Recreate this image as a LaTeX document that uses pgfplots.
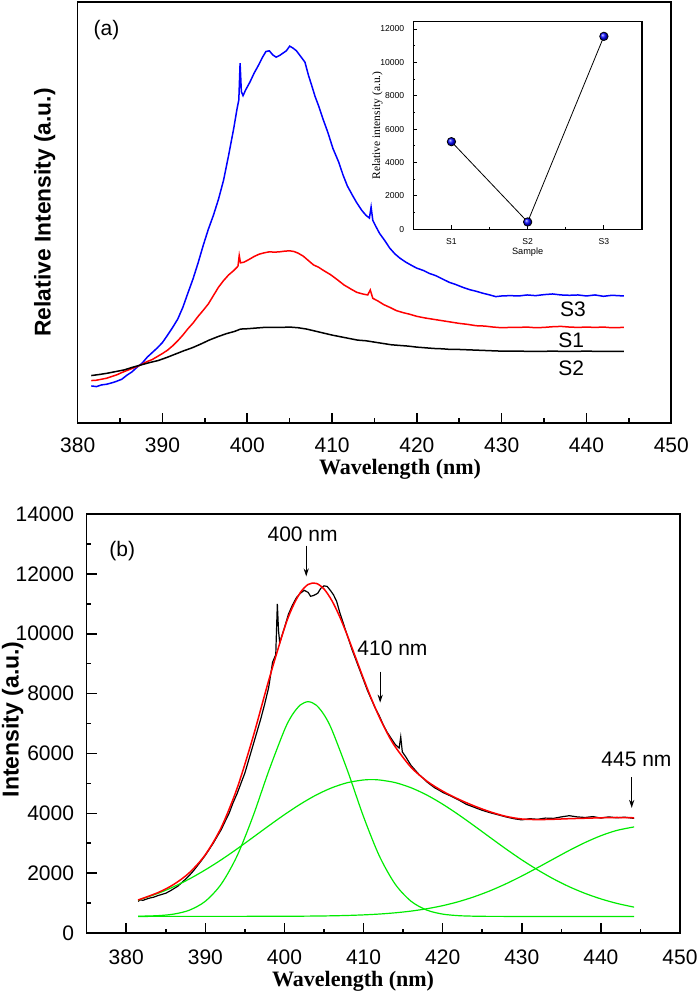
\documentclass[border=0pt]{standalone}
\usepackage{pgfplots}
\pgfplotsset{compat=1.18}
\usepackage{fontspec}
\setmainfont{Liberation Sans}
\newfontfamily\timesfont{Liberation Serif}
\usetikzlibrary{arrows.meta}
\definecolor{fitgreen}{RGB}{0,235,0}
\begin{document}
\begin{tikzpicture}
\path[use as bounding box] (0,0) rectangle (350pt,-496.5pt);
% ---------------- panel (a) ----------------
\begin{axis}[
  at={(38.85pt,-211.35pt)}, anchor=south west,
  scale only axis, width=296.8pt, height=210.35pt,
  xmin=380, xmax=450, ymin=0, ymax=1258,
  xtick={380,390,...,450}, minor x tick num=1,
  ytick=\empty, tick pos=left, tick align=inside,
  major tick length=5pt, minor tick length=2.2pt,
  axis line style={line width=0.8pt}, every tick/.style={black,line width=0.8pt},
  /pgf/number format/assume math mode=true,
  xticklabel style={font=\fontsize{10.5}{12}\selectfont, anchor=center, yshift=-11.2pt},
  xlabel={\timesfont\bfseries Wavelength (nm)},
  xlabel style={font=\fontsize{11}{13}\selectfont, at={(axis description cs:0.543,0)}, anchor=center, yshift=-23.5pt},
  ylabel={\bfseries Relative Intensity (a.u.)},
  ylabel style={font=\fontsize{11.4}{13}\selectfont, at={(axis description cs:0,0.5)}, anchor=center, yshift=16.5pt},
  clip=false,
]
\addplot[blue, line width=0.75pt] coordinates {
(381.6,110)(382.2,108)(382.8,113)(383.4,115)(384.0,119)(384.6,124)(385.2,130)(385.8,142)(386.4,152)(387.0,166)
(387.6,178)(388.2,196)(388.8,210)(389.4,224)(390.0,240)(390.6,262)(391.2,285)(391.8,310)(392.4,345)(393.0,388)
(393.6,430)(394.2,478)(394.8,530)(395.4,578)(396.0,620)(396.6,668)(397.2,725)(397.8,800)(398.4,880)(398.8,940)
(399.0,965)(399.15,1075)(399.3,990)(399.5,978)(399.8,995)(400.3,1018)(400.8,1045)(401.3,1068)(401.8,1093)(402.2,1110)
(402.6,1112)(403.0,1100)(403.4,1093)(403.8,1098)(404.2,1105)(404.6,1112)(405.0,1126)(405.4,1120)(405.8,1112)(406.3,1095)
(406.8,1078)(407.2,1040)(407.6,1008)(408.0,975)(408.4,948)(408.9,910)(409.5,868)(410.1,820)(410.8,778)(411.3,740)
(411.8,708)(412.4,680)(412.9,658)(413.5,635)(414.0,620)(414.4,612)(414.6,645)(414.8,605)(415.2,585)(415.6,566)
(416.2,545)(416.8,522)(417.4,505)(418.0,492)(418.7,480)(419.4,470)(420.0,462)(420.8,455)(421.5,446)(422.2,440)
(423.0,430)(423.8,420)(424.6,413)(425.4,405)(426.2,398)(427.0,393)(427.8,387)(428.6,382)(429.3,377)(430.0,379)
(431.0,380)(432.0,379)(433.0,382)(434.0,380)(435.0,383)(436.0,385)(437.0,382)(438.0,381)(439.0,382)(440.0,379)
(441.0,382)(442.0,378)(443.0,381)(444.4,379)};
\addplot[red, line width=0.75pt] coordinates {
(381.6,126)(382.2,127)(382.8,130)(383.4,133)(384.0,138)(384.6,143)(385.2,150)(385.8,156)(386.4,162)(387.0,168)
(387.6,175)(388.2,183)(388.8,189)(389.4,198)(390.0,207)(390.6,217)(391.2,230)(391.8,245)(392.4,262)(393.0,281)
(393.6,298)(394.2,318)(394.8,336)(395.4,355)(396.0,380)(396.6,405)(397.2,425)(397.8,442)(398.4,455)(398.9,468)
(399.05,500)(399.2,478)(399.6,480)(400.2,488)(400.8,497)(401.4,504)(402.0,508)(402.6,511)(403.2,510)(403.8,511)
(404.4,513)(405.0,514)(405.5,512)(406.0,507)(406.6,498)(407.2,485)(407.8,472)(408.4,465)(409.0,455)(409.8,443)
(410.6,428)(411.4,412)(412.2,400)(412.9,390)(413.6,385)(414.2,382)(414.5,397)(414.8,372)(415.4,364)(416.1,353)
(416.8,345)(417.6,335)(418.4,329)(419.2,324)(420.0,318)(421.0,313)(422.0,309)(423.0,305)(424.0,301)(425.0,297)
(426.0,294)(427.0,290)(428.0,289)(429.0,286)(430.0,284)(431.0,285)(432.0,285)(433.0,286)(434.0,284)(435.0,285)
(436.0,287)(437.0,288)(438.0,286)(439.0,285)(440.0,286)(441.0,285)(442.0,286)(443.0,284)(444.4,285)};
\addplot[black, line width=0.75pt] coordinates {
(381.6,141)(382.5,144)(383.5,148)(384.5,153)(385.5,158)(386.5,166)(387.5,173)(388.5,180)(389.5,186)(390.5,195)
(391.5,205)(392.5,215)(393.5,224)(394.5,235)(395.5,247)(396.5,257)(397.5,266)(398.5,273)(399.2,280)(400.0,281)
(401.0,283)(402.0,285)(403.0,285)(404.0,285)(405.0,286)(406.0,284)(407.0,280)(408.0,274)(409.0,268)(410.0,262)
(411.0,257)(412.0,252)(413.0,247)(414.0,245)(415.0,241)(416.0,237)(417.0,233)(418.0,231)(419.0,229)(420.0,226)
(421.0,224)(422.0,222)(423.0,221)(424.0,219)(425.0,219)(426.0,218)(427.0,217)(428.0,216)(430.0,214)(432.0,214)
(434.0,213)(436.0,214)(438.0,213)(440.0,214)(442.0,213)(444.4,213)};
\node[font=\fontsize{10.5}{12}\selectfont] at (axis cs:438.4,338) {S3};
\node[font=\fontsize{10.5}{12}\selectfont] at (axis cs:438.2,248) {S1};
\node[font=\fontsize{10.5}{12}\selectfont] at (axis cs:438.2,163) {S2};
\node[font=\fontsize{10.5}{12}\selectfont] at (axis cs:383.4,1173) {(a)};
\end{axis}
% ---------------- inset ----------------
\begin{axis}[
  at={(206.65pt,-114.65pt)}, anchor=south west,
  scale only axis, width=114.35pt, height=103.8pt,
  axis background/.style={fill=white},
  xmin=0.5, xmax=3.5, ymin=0, ymax=12437,
  xtick={1,2,3}, xticklabels={S1,S2,S3}, minor xtick={1.5,2.5},
  ytick={0,2000,...,12000}, minor y tick num=1, scaled y ticks=false,
  tick pos=left, tick align=inside,
  major tick length=2pt, minor tick length=1pt,
  axis line style={line width=0.6pt}, every tick/.style={black,line width=0.5pt},
  /pgf/number format/assume math mode=true, /pgf/number format/1000 sep={},
  xticklabel style={font=\fontsize{4.3}{5}\selectfont, anchor=center, yshift=-6.3pt},
  yticklabel style={font=\fontsize{4.3}{5}\selectfont, anchor=east, xshift=-1pt},
  xlabel={Sample},
  xlabel style={font=\fontsize{4.6}{5}\selectfont, at={(axis description cs:0.5,0)}, anchor=center, yshift=-11.3pt},
  ylabel={\timesfont Relative intensity (a.u.)},
  ylabel style={font=\fontsize{5.75}{6.5}\selectfont, at={(axis description cs:0,0.5)}, anchor=center, yshift=18pt},
  clip=false,
]
\addplot[black, line width=0.4pt, mark=ball, mark size=2.1pt, mark options={ball color=blue}] coordinates {
(1,5250)(2,440)(3,11560)};
\end{axis}
% ---------------- panel (b) ----------------
\begin{axis}[
  at={(43.35pt,-466.5pt)}, anchor=south west,
  scale only axis, width=296.65pt, height=209.5pt,
  xmin=375, xmax=450, ymin=0, ymax=14000,
  xtick={380,390,...,450}, minor x tick num=1,
  ytick={0,2000,...,14000}, minor y tick num=1, scaled y ticks=false,
  tick pos=left, tick align=inside,
  major tick length=5pt, minor tick length=2.2pt,
  axis line style={line width=0.8pt}, every tick/.style={black,line width=0.8pt},
  /pgf/number format/assume math mode=true, /pgf/number format/1000 sep={},
  xticklabel style={font=\fontsize{10.5}{12}\selectfont, anchor=center, yshift=-12.2pt},
  yticklabel style={font=\fontsize{10.5}{12}\selectfont, anchor=east, xshift=-2.8pt},
  xlabel={\timesfont\bfseries Wavelength (nm)},
  xlabel style={font=\fontsize{11}{13}\selectfont, at={(axis description cs:0.449,0)}, anchor=center, yshift=-24.3pt},
  ylabel={\bfseries Intensity (a.u.)},
  ylabel style={font=\fontsize{11.5}{13}\selectfont, at={(axis description cs:0,0.51)}, anchor=center, yshift=37pt},
  clip=false,
]
\addplot[black, line width=0.6pt] coordinates {
(381.5,1060)(381.8,1110)(382.1,1090)(382.5,1130)(383.0,1170)(383.5,1200)(384.0,1250)(384.5,1290)(385.0,1330)(385.5,1400)
(386.0,1480)(386.5,1560)(387.0,1680)(387.5,1800)(388.0,1930)(388.5,2080)(389.0,2250)(389.5,2420)(390.0,2600)(390.5,2800)
(391.0,3000)(391.5,3230)(392.0,3450)(392.5,3730)(393.0,4000)(393.5,4350)(394.0,4650)(394.5,5000)(395.0,5350)(395.5,5800)
(396.0,6250)(396.5,6700)(397.0,7150)(397.5,7650)(398.0,8200)(398.5,9050)(398.9,9300)(399.1,11000)(399.25,10100)(399.4,9700)
(399.7,9950)(400.0,10200)(400.5,10650)(401.0,10950)(401.5,11200)(402.0,11350)(402.5,11450)(403.0,11380)(403.3,11250)(403.7,11280)
(404.2,11350)(404.6,11520)(405.0,11600)(405.4,11580)(405.8,11450)(406.2,11300)(406.6,11080)(407.0,10700)(407.5,10300)(408.0,9900)
(408.5,9500)(409.0,9150)(409.5,8800)(410.0,8450)(410.5,8100)(411.0,7800)(411.5,7500)(412.0,7250)(412.5,6950)(413.0,6700)
(413.5,6500)(414.0,6300)(414.5,6180)(414.7,6550)(414.9,6050)(415.3,5900)(416.0,5600)(416.5,5450)(417.0,5300)(417.5,5180)
(418.0,5050)(418.5,4950)(419.0,4850)(419.5,4780)(420.0,4700)(421.0,4580)(422.0,4450)(423.0,4300)(424.0,4200)(425.0,4100)
(426.0,4020)(427.0,3950)(428.0,3880)(429.0,3820)(430.0,3780)(431.0,3820)(432.0,3800)(433.0,3840)(434.0,3830)(435.0,3880)
(436.0,3920)(437.0,3880)(438.0,3860)(439.0,3890)(440.0,3840)(441.0,3880)(442.0,3850)(443.0,3870)(444.2,3830)};
\addplot[fitgreen, line width=0.6pt, smooth] coordinates {
(381.5,560)(384,580)(386,632)(388,765)(390,1062)(392,1632)(394,2571)(396,3884)(398,5404)(400,6785)(401,7294)(402,7618)
(403,7730)(404,7618)(405,7294)(406,6785)(408,5404)(410,3884)(412,2571)(414,1632)(416,1062)(418,765)(420,632)(422,580)
(424,562)(426,556)(430,555)(444.2,555)};
\addplot[fitgreen, line width=0.6pt, smooth] coordinates {
(381.5,1099)(384,1324)(386,1546)(388,1809)(390,2111)(392,2445)(394,2809)(396,3192)(398,3579)(400,3955)(402,4304)(404,4610)
(406,4854)(408,5026)(410,5114)(411,5125)(412,5114)(414,5026)(416,4854)(418,4610)(420,4304)(422,3955)(424,3579)(426,3192)
(428,2809)(430,2445)(432,2111)(434,1809)(436,1546)(438,1324)(440,1140)(442,991)(444.2,864)};
\addplot[fitgreen, line width=0.6pt, smooth] coordinates {
(381.5,555)(390,556)(396,557)(400,559)(404,567)(406,575)(408,587)(410,606)(412,634)(414,675)(416,732)(418,811)(420,914)
(422,1047)(424,1213)(426,1412)(428,1644)(430,1904)(432,2184)(434,2473)(436,2759)(438,3023)(440,3251)(442,3427)(444.2,3545)};
\addplot[red, line width=0.75pt, smooth] coordinates {
(381.5,1104)(384,1349)(386,1623)(388,2020)(390,2619)(392,3523)(394,4827)(396,6523)(398,8431)(400,10189)(401,10877)(402,11374)
(403,11648)(404,11685)(405,11495)(406,11104)(407,10559)(408,9907)(409,9203)(410,8494)(411,7821)(412,7209)(413,6675)(414,6223)
(416,5538)(418,5076)(420,4740)(422,4472)(424,4244)(426,4050)(428,3898)(430,3810)(432,3790)(434,3800)(436,3820)(438,3835)
(440,3850)(442,3860)(444.2,3850)};
\node[font=\fontsize{10.5}{12}\selectfont] at (axis cs:379.5,12747) {(b)};
\node[font=\fontsize{10.5}{12}\selectfont] at (axis cs:402.3,13335) {400 nm};
\draw[-{Stealth[length=4pt,width=2.6pt]}, line width=0.5pt] (axis cs:402.75,12946) -- (axis cs:402.75,11915);
\node[font=\fontsize{10.5}{12}\selectfont] at (axis cs:413.65,9507) {410 nm};
\draw[-{Stealth[length=4pt,width=2.6pt]}, line width=0.5pt] (axis cs:412.1,8731) -- (axis cs:412.1,7699);
\node[font=\fontsize{10.5}{12}\selectfont] at (axis cs:444.5,5791) {445 nm};
\draw[-{Stealth[length=4pt,width=2.6pt]}, line width=0.5pt] (axis cs:443.9,5203) -- (axis cs:443.9,4182);
\end{axis}
\end{tikzpicture}
\end{document}
